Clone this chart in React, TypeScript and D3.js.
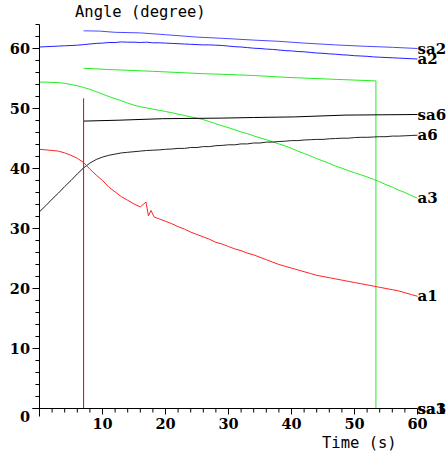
import React from "react";
import * as d3 from "d3";

// ---- data (time in s, angle in degree) ----
const a1Time = [0,1,2,3,4,5,6,7,8,9,10,11,12,13,14,15,16,16.9,17.3,17.7,18.2,19,20,21,22,23,24,25,26,27,28,29,30,31,32,33,34,35,36,37,38,39,40,41,42,43,44,45,46,47,48,49,50,51,52,53,54,55,56,57,58,59,60];
const a1Value = [43.2,43.1,43.0,42.9,42.6,42.2,41.7,41.0,39.9,38.9,38.0,36.9,36.1,35.3,34.7,34.1,33.6,34.4,32.1,33.0,31.9,31.6,31.2,30.8,30.3,29.9,29.4,29.0,28.6,28.2,27.7,27.4,27.0,26.6,26.3,25.9,25.6,25.2,24.8,24.4,24.0,23.7,23.4,23.1,22.8,22.5,22.2,22.0,21.8,21.6,21.4,21.2,21.0,20.8,20.6,20.4,20.2,20.0,19.8,19.6,19.3,19.0,18.7];

const tSec = [0,1,2,3,4,5,6,7,8,9,10,11,12,13,14,15,16,17,18,19,20,21,22,23,24,25,26,27,28,29,30,31,32,33,34,35,36,37,38,39,40,41,42,43,44,45,46,47,48,49,50,51,52,53,54,55,56,57,58,59,60];
const a2Value = [60.25,60.3,60.35,60.4,60.45,60.5,60.55,60.65,60.75,60.85,60.9,61.0,61.0,61.1,61.05,61.05,61.0,61.05,60.95,60.95,60.9,60.85,60.8,60.75,60.7,60.65,60.6,60.6,60.55,60.5,60.4,60.3,60.25,60.15,60.05,60.0,59.9,59.85,59.75,59.65,59.6,59.5,59.45,59.35,59.25,59.2,59.1,59.05,58.95,58.9,58.8,58.75,58.7,58.6,58.55,58.5,58.45,58.4,58.35,58.3,58.25];
const a3Value = [54.4,54.4,54.35,54.3,54.2,54.0,53.8,53.5,53.2,52.8,52.4,52.0,51.65,51.3,50.9,50.55,50.3,50.1,49.9,49.7,49.5,49.3,49.05,48.85,48.6,48.4,48.15,47.8,47.45,47.1,46.8,46.45,46.1,45.8,45.45,45.1,44.8,44.45,44.1,43.75,43.35,42.9,42.5,42.1,41.65,41.25,40.85,40.4,40.05,39.65,39.3,38.95,38.6,38.2,37.8,37.3,36.9,36.4,36.0,35.5,35.05];
const a6Value = [32.8,33.8,34.9,35.9,37.0,38.0,39.1,40.1,40.9,41.5,41.9,42.2,42.4,42.6,42.7,42.8,42.9,43.0,43.05,43.1,43.2,43.25,43.35,43.35,43.5,43.5,43.65,43.65,43.8,43.85,43.95,43.95,44.1,44.1,44.25,44.25,44.4,44.4,44.5,44.55,44.65,44.65,44.75,44.8,44.85,44.85,44.95,45.0,45.05,45.05,45.15,45.2,45.2,45.25,45.3,45.3,45.4,45.4,45.45,45.5,45.55];

const sa2Time = [7,9.5,12,16,20,25,29,34,38,42,47,51,56,60];
const sa2Value = [62.95,62.9,62.7,62.6,62.3,61.9,61.7,61.4,61.2,60.9,60.6,60.4,60.2,60.0];
const sa3Time = [7,11,18,26,29,34,39,46,53.4,53.4];
const sa3Value = [56.7,56.5,56.2,55.8,55.7,55.5,55.2,54.9,54.6,0];
const sa6Time = [7,12.6,19.5,29,34,40.5,48.5,60];
const sa6Value = [47.9,48.05,48.3,48.4,48.5,48.6,48.9,49.0];
const sa1Time = [7,7];
const sa1Value = [51.7,0];

const yMajor = [0,10,20,30,40,50,60];
const xMajor = [10,20,30,40,50,60];

type S = { name: string; t: number[]; v: number[]; color: string };
const series: S[] = [
  { name: "sa2", t: sa2Time, v: sa2Value, color: "#4a4aff" },
  { name: "a2", t: tSec, v: a2Value, color: "#2020ff" },
  { name: "sa3", t: sa3Time, v: sa3Value, color: "#22ee22" },
  { name: "a3", t: tSec, v: a3Value, color: "#22ee22" },
  { name: "sa6", t: sa6Time, v: sa6Value, color: "#000000" },
  { name: "a6", t: tSec, v: a6Value, color: "#222222" },
  { name: "sa1", t: sa1Time, v: sa1Value, color: "#dd0000" },
  { name: "a1", t: a1Time, v: a1Value, color: "#ff2222" },
];

export default function App() {
  const x = d3.scaleLinear().domain([0, 60]).range([39.5, 417.5]);
  const y = d3.scaleLinear().domain([0, 60]).range([408.5, 48.5]);
  const line = d3
    .line<[number, number]>()
    .x((d) => x(d[0]))
    .y((d) => y(d[1]));
  const yMinor = d3.range(0, 65, 2);
  const xMinor = d3.range(0, 61, 2);
  const lblFont = "DejaVu Serif";
  return (
    <svg
      width={447}
      height={458}
      style={{ position: "absolute", left: 0, top: 0, background: "#fff" }}
    >
      {series.map((s) => (
        <path
          key={s.name}
          d={line(s.t.map((t, i) => [t, s.v[i]] as [number, number])) || ""}
          fill="none"
          stroke={s.color}
          strokeWidth={1}
        />
      ))}
      {/* axes */}
      <line x1={x(0)} x2={x(0)} y1={y(0) + 8} y2={y(64)} stroke="#000" />
      <line x1={x(0) - 7} x2={x(60)} y1={y(0)} y2={y(0)} stroke="#000" />
      {yMinor.map((v) => (
        <line
          key={"ym" + v}
          x1={x(0) - (v % 10 === 0 ? 7 : 4)}
          x2={x(0)}
          y1={y(v)}
          y2={y(v)}
          stroke="#000"
        />
      ))}
      {xMinor.map((v) => (
        <line
          key={"xm" + v}
          x1={x(v)}
          x2={x(v)}
          y1={y(0)}
          y2={y(0) + (v % 10 === 0 ? 6 : 4)}
          stroke="#000"
        />
      ))}
      {yMajor.map((v) => (
        <text
          key={"yl" + v}
          x={30}
          y={v === 0 ? y(0) + 8 : y(v)}
          textAnchor="end"
          dominantBaseline="central"
          fontFamily={lblFont}
          fontWeight="bold"
          fontSize={14.5}
        >
          {v}
        </text>
      ))}
      {xMajor.map((v) => (
        <text
          key={"xl" + v}
          x={x(v)}
          y={428.5}
          textAnchor="middle"
          fontFamily={lblFont}
          fontWeight="bold"
          fontSize={14.5}
        >
          {v}
        </text>
      ))}
      {series.map((s) => (
        <text
          key={"l" + s.name}
          x={x(60)}
          y={y(s.v[s.v.length - 1])}
          dominantBaseline="central"
          fontFamily={lblFont}
          fontWeight="bold"
          fontSize={15}
        >
          {s.name}
        </text>
      ))}
      <text x={75} y={17} fontFamily="DejaVu Sans Mono" fontSize={15.5}>
        Angle (degree)
      </text>
      <text x={322} y={448} fontFamily="DejaVu Sans Mono" fontSize={15.5}>
        Time (s)
      </text>
    </svg>
  );
}
